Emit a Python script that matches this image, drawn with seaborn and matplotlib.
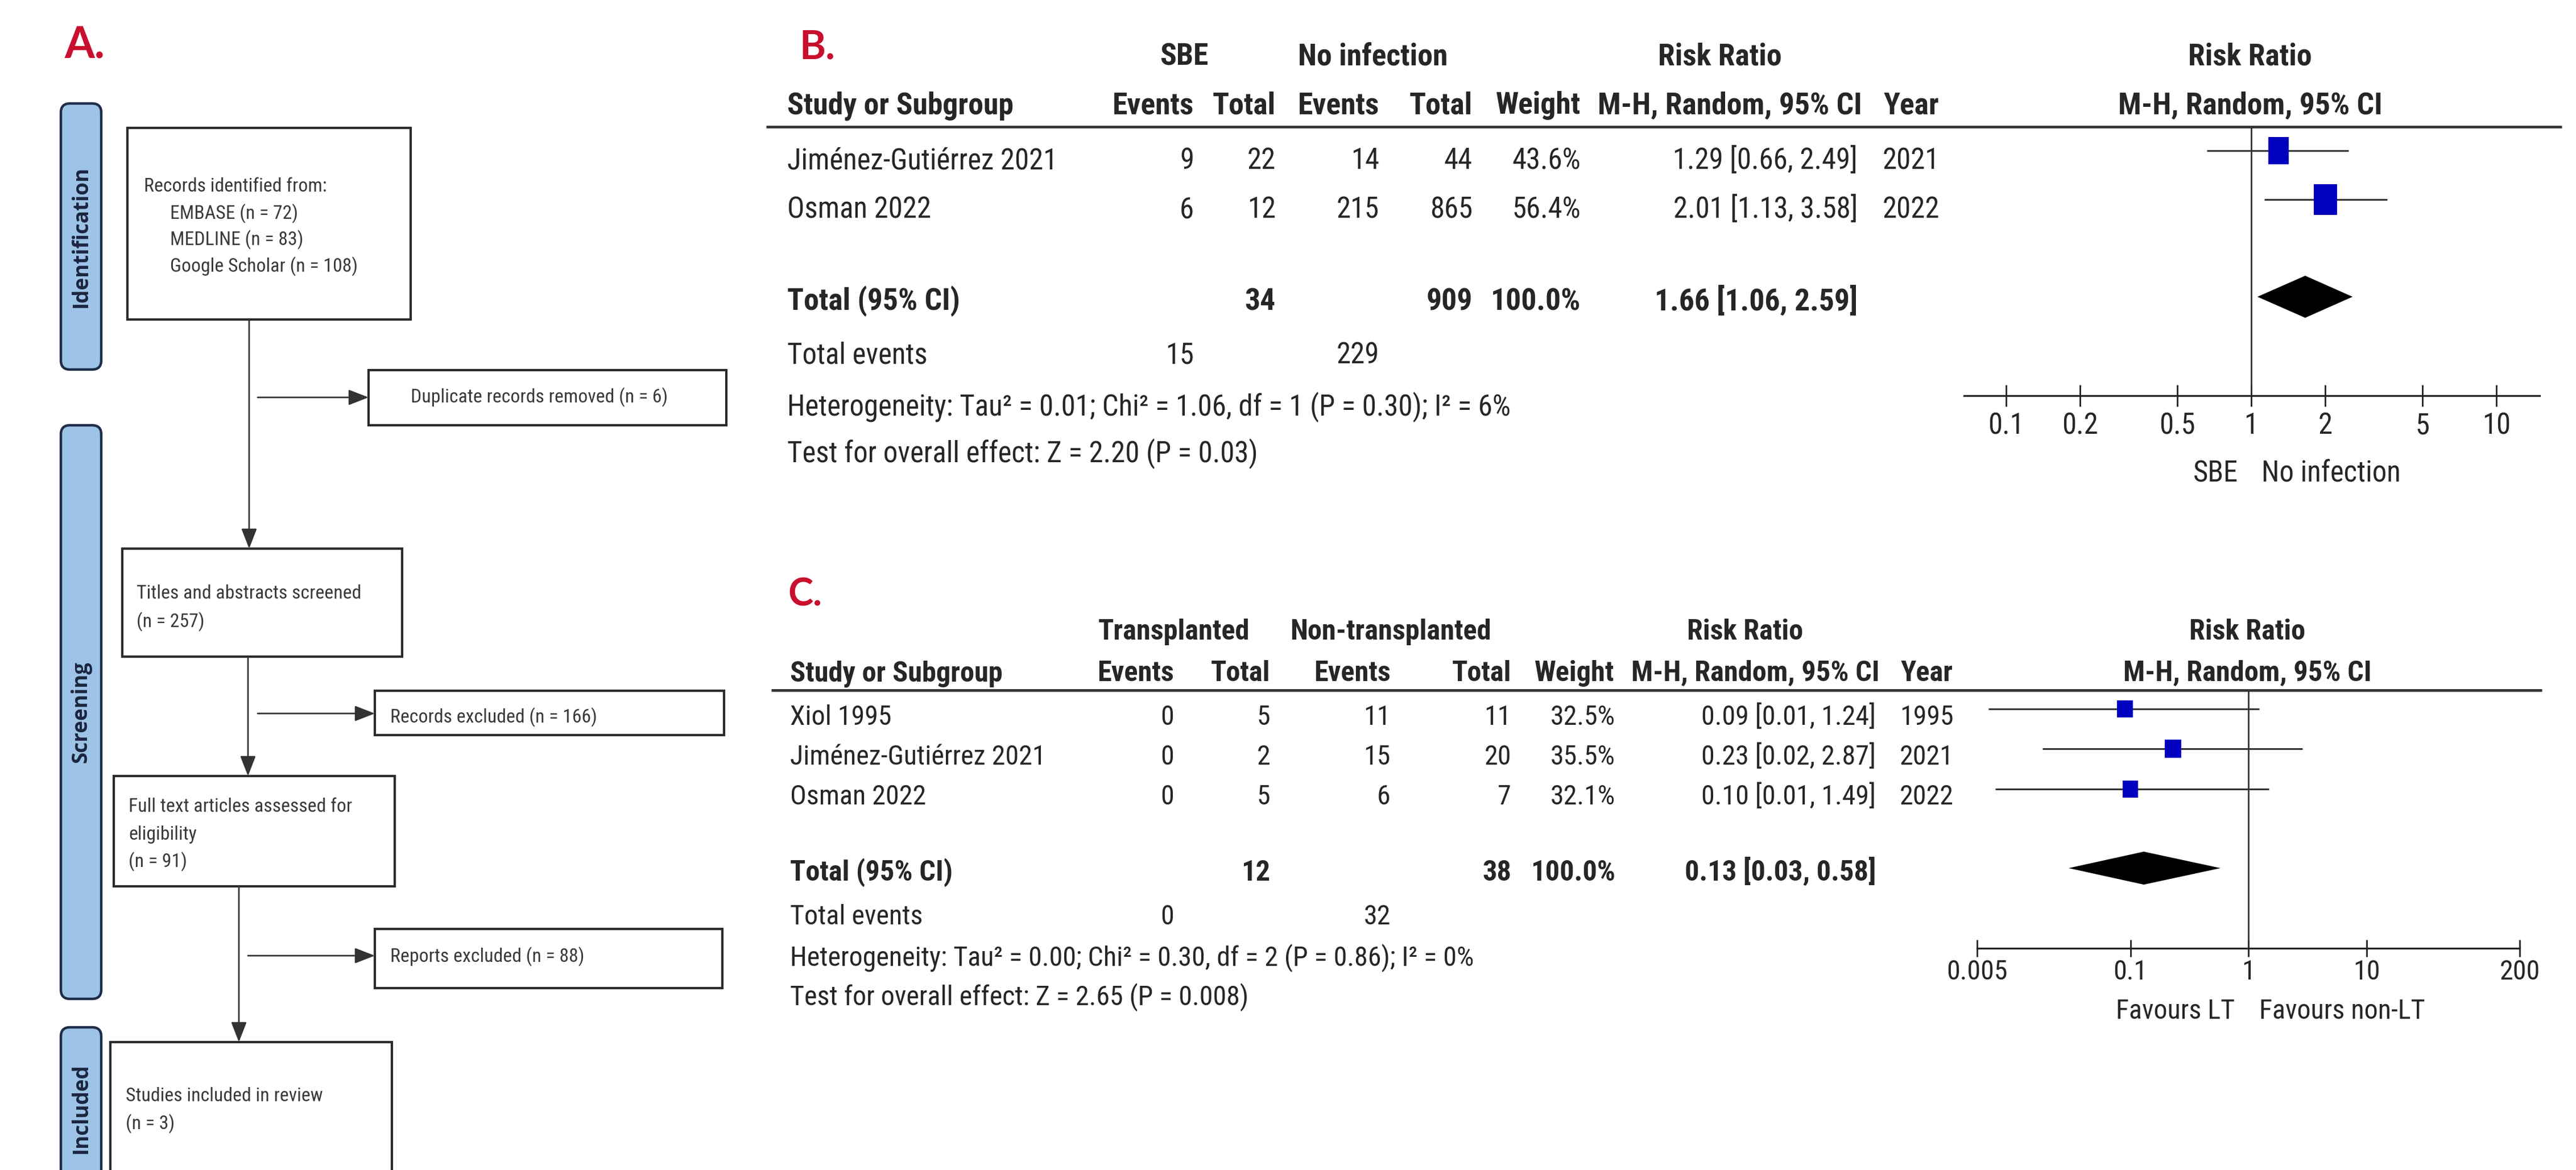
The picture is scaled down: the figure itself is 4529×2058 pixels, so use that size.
import numpy as np
import pandas as pd
import seaborn as sns
import matplotlib
matplotlib.use("Agg")
import matplotlib.pyplot as plt
from matplotlib.patches import Rectangle, FancyBboxPatch
from matplotlib.markers import MarkerStyle
from matplotlib.path import Path
from matplotlib.ticker import NullLocator
from matplotlib import font_manager as fm

# ---------------- data ----------------
# PRISMA flow counts
n_embase, n_medline, n_scholar = 72, 83, 108
n_duplicates = 6
n_screened = 257
n_records_excluded = 166
n_assessed = 91
n_reports_excluded = 88
n_included = 3

# Panel B: SBE vs no infection
b_studies = ["Jiménez-Gutiérrez 2021", "Osman 2022"]
b_sbe_events = [9, 6]
b_sbe_total = [22, 12]
b_noinf_events = [14, 215]
b_noinf_total = [44, 865]
b_weight = [43.6, 56.4]
b_rr = [1.29, 2.01]
b_ci_low = [0.66, 1.13]
b_ci_high = [2.49, 3.58]
b_year = [2021, 2022]
b_pooled = [1.66, 1.06, 2.59]
b_heterogeneity = "Heterogeneity: Tau² = 0.01; Chi² = 1.06, df = 1 (P = 0.30); I² = 6%"
b_overall = "Test for overall effect: Z = 2.20 (P = 0.03)"
b_ticks = [0.1, 0.2, 0.5, 1, 2, 5, 10]
b_tick_labels = ["0.1", "0.2", "0.5", "1", "2", "5", "10"]

# Panel C: transplanted vs non-transplanted
c_studies = ["Xiol 1995", "Jiménez-Gutiérrez 2021", "Osman 2022"]
c_lt_events = [0, 0, 0]
c_lt_total = [5, 2, 5]
c_nonlt_events = [11, 15, 6]
c_nonlt_total = [11, 20, 7]
c_weight = [32.5, 35.5, 32.1]
c_rr = [0.09, 0.23, 0.10]
c_ci_low = [0.0063, 0.018, 0.0072]
c_ci_high = [1.24, 2.87, 1.49]
c_year = [1995, 2021, 2022]
c_pooled = [0.13, 0.03, 0.58]
c_heterogeneity = "Heterogeneity: Tau² = 0.00; Chi² = 0.30, df = 2 (P = 0.86); I² = 0%"
c_overall = "Test for overall effect: Z = 2.65 (P = 0.008)"
c_ticks = [0.005, 0.1, 1, 10, 200]
c_tick_labels = ["0.005", "0.1", "1", "10", "200"]

total_weight_label = "100.0%"

# ---------------- style ----------------
sns.set_theme(style="white")
_names = {f.name for f in fm.fontManager.ttflist}
FAM = next((n for n in ["Liberation Sans Narrow", "Roboto Condensed", "Liberation Sans"] if n in _names), "DejaVu Sans")
LETTER_FAM = "Lato" if "Lato" in _names else "DejaVu Sans"
BAR_FAM = "Open Sans" if "Open Sans" in _names else "DejaVu Sans"
plt.rcParams["font.family"] = [FAM, "DejaVu Sans"]
plt.rcParams["xtick.bottom"] = True

W, H, DPI = 4529, 2058, 100
PX = DPI / 72.0
TXT = "#262626"
RED = "#C8102E"
BLUE = "#0000BE"

fig = plt.figure(figsize=(W / DPI, H / DPI), dpi=DPI)
fig.patch.set_facecolor("white")
renderer = fig.canvas.get_renderer()

ax_bg = fig.add_axes([0, 0, 1, 1])
ax_bg.set_xlim(0, W)
ax_bg.set_ylim(H, 0)
ax_bg.axis("off")


def fit(s, width_px, weight="normal", family=FAM):
    t = fig.text(0, 0, s, fontsize=100, fontweight=weight, family=family)
    w = t.get_window_extent(renderer=renderer).width
    t.remove()
    return 100.0 * width_px / w


def put(x, y, s, size, ha="left", weight="normal", color=TXT, family=FAM, rot=0):
    if rot:
        ax_bg.text(x, y, s, ha="center", va="center", rotation=rot, fontsize=size,
                   fontweight=weight, color=color, family=family)
    else:
        ax_bg.text(x, y + 0.36 * size * PX, s, ha=ha, va="baseline", fontsize=size,
                   fontweight=weight, color=color, family=family)


# ---------------- panel A: PRISMA flow ----------------
put(113, 74, "A.", fit("A.", 71, "bold", LETTER_FAM), weight="bold", color=RED, family=LETTER_FAM)

fs_flow = fit("Duplicate records removed (n = 6)", 452)
fs_bar = fit("Identification", 249, "bold", BAR_FAM)

for (x0, y0, x1, y1), label in [((107, 182, 178, 650), "Identification"),
                                ((107, 748, 178, 1757), "Screening"),
                                ((107, 1807, 178, 2092), "Included")]:
    ax_bg.add_patch(FancyBboxPatch((x0, y0), x1 - x0, y1 - y0,
                                   boxstyle="round,pad=0,rounding_size=16",
                                   fc="#9DC3E6", ec="#1F2D4A", lw=3.2, zorder=2))
    put((x0 + x1) / 2, (y0 + y1) / 2, label, fs_bar, weight="bold",
        color="#1B2540", family=BAR_FAM, rot=90)

flow_boxes = [(224, 225, 722, 562), (648, 651, 1277, 748), (215, 965, 707, 1155),
              (659, 1215, 1273, 1293), (200, 1365, 694, 1559), (659, 1634, 1270, 1738),
              (194, 1833, 689, 2110)]
for x0, y0, x1, y1 in flow_boxes:
    ax_bg.add_patch(Rectangle((x0, y0), x1 - x0, y1 - y0, fc="white", ec="#2B2B2B",
                              lw=3.0, zorder=2))

FLOW_TXT = "#3A3A3A"
put(253, 325, "Records identified from:", fs_flow, color=FLOW_TXT)
put(299, 373, f"EMBASE (n = {n_embase})", fs_flow, color=FLOW_TXT)
put(299, 419, f"MEDLINE (n = {n_medline})", fs_flow, color=FLOW_TXT)
put(299, 466, f"Google Scholar (n = {n_scholar})", fs_flow, color=FLOW_TXT)
put(722, 696, f"Duplicate records removed (n = {n_duplicates})", fs_flow, color=FLOW_TXT)
put(240, 1041, "Titles and abstracts screened", fs_flow, color=FLOW_TXT)
put(240, 1091, f"(n = {n_screened})", fs_flow, color=FLOW_TXT)
put(686, 1259, f"Records excluded (n = {n_records_excluded})", fs_flow, color=FLOW_TXT)
put(226, 1416, "Full text articles assessed for", fs_flow, color=FLOW_TXT)
put(226, 1465, "eligibility", fs_flow, color=FLOW_TXT)
put(226, 1513, f"(n = {n_assessed})", fs_flow, color=FLOW_TXT)
put(686, 1680, f"Reports excluded (n = {n_reports_excluded})", fs_flow, color=FLOW_TXT)
put(221, 1925, "Studies included in review", fs_flow, color=FLOW_TXT)
put(221, 1974, f"(n = {n_included})", fs_flow, color=FLOW_TXT)

arrow_kw = dict(arrowstyle="-|>,head_length=0.9,head_width=0.35", color="#333333",
                lw=2.0, mutation_scale=24, shrinkA=0, shrinkB=0)
for (xa, ya), (xb, yb) in [((438, 562), (438, 965)), ((453, 699), (648, 699)),
                           ((436, 1155), (436, 1365)), ((453, 1255), (659, 1255)),
                           ((420, 1559), (420, 1833)), ((436, 1681), (659, 1681))]:
    ax_bg.annotate("", xy=(xb, yb), xytext=(xa, ya), arrowprops=arrow_kw, zorder=3)


# ---------------- forest-plot helpers ----------------
def forest_axes(x0, x1, center, decade, axis_y):
    ax = fig.add_axes([x0 / W, 0, (x1 - x0) / W, 1])
    ax.set_xscale("log")
    ax.set_xlim(10 ** ((x0 - center) / decade), 10 ** ((x1 - center) / decade))
    ax.set_ylim(H, 0)
    ax.patch.set_alpha(0)
    for s in ["left", "right", "top"]:
        ax.spines[s].set_visible(False)
    ax.spines["bottom"].set_position(("data", axis_y))
    ax.spines["bottom"].set_linewidth(2.3)
    ax.spines["bottom"].set_color("#222222")
    ax.set_yticks([])
    ax.xaxis.set_minor_locator(NullLocator())
    return ax


def rect_marker(aspect):
    hw = aspect / 2.0
    verts = [(-hw, -0.5), (hw, -0.5), (hw, 0.5), (-hw, 0.5), (-hw, -0.5)]
    return MarkerStyle(Path(verts, closed=True))


def draw_forest(ax, rr, lo, hi, weight, rows_y, pooled, pooled_y, dia_h, k_size,
                aspect, top_y, axis_y):
    ax.vlines(1, top_y, axis_y, color="#333333", lw=2.0, zorder=1)
    ax.hlines(rows_y, lo, hi, color="#333333", lw=2.2, zorder=2)
    df = pd.DataFrame({"rr": rr, "y": rows_y, "w": weight})
    sns.scatterplot(data=df, x="rr", y="y", size="w", sizes=(0, k_size * 100),
                    size_norm=(0, 100), marker=rect_marker(aspect), color=BLUE,
                    edgecolor="none", linewidth=0, legend=False, ax=ax, zorder=3)
    est, plo, phi = pooled
    ax.fill([plo, est, phi, est], [pooled_y, pooled_y - dia_h / 2, pooled_y, pooled_y + dia_h / 2],
            color="black", lw=0, zorder=3)
    ax.set_xlabel("")
    ax.set_ylabel("")
    ax.set_yticks([])


def finish_axis(ax, ticks, labels, length, size, pad):
    ax.set_xticks(ticks)
    ax.set_xticklabels(labels)
    ax.xaxis.set_minor_locator(NullLocator())
    ax.tick_params(axis="x", which="major", bottom=True, top=False, direction="inout",
                   length=length, width=2.0, color="#222222", pad=pad,
                   labelsize=size, labelcolor=TXT)


def ci_text(r, l, h):
    return f"{r:.2f} [{l:.2f}, {h:.2f}]"


# ---------------- panel B ----------------
fsB = fit(b_overall, 828)
fsBb = fit("Study or Subgroup", 398, "bold")
put(1405, 78, "B.", fit("B.", 63, "bold", LETTER_FAM), weight="bold", color=RED, family=LETTER_FAM)

put(2082, 95, "SBE", fsBb, ha="center", weight="bold")
put(2414, 95, "No infection", fsBb, ha="center", weight="bold")
put(3024, 95, "Risk Ratio", fsBb, ha="center", weight="bold")
put(3956, 95, "Risk Ratio", fsBb, ha="center", weight="bold")
for x, s, ha in [(1384, "Study or Subgroup", "left"), (2099, "Events", "right"),
                 (2243, "Total", "right"), (2425, "Events", "right"), (2589, "Total", "right"),
                 (2779, "Weight", "right"), (3041, "M-H, Random, 95% CI", "center"),
                 (3312, "Year", "left"), (3956, "M-H, Random, 95% CI", "center")]:
    put(x, 181, s, fsBb, ha=ha, weight="bold")
ax_bg.plot([1347, 4504], [223, 223], color="#333333", lw=3.4, solid_capstyle="butt")

b_rows = [279, 365]
for i, y in enumerate(b_rows):
    put(1384, y, b_studies[i], fsB)
    put(2099, y, str(b_sbe_events[i]), fsB, ha="right")
    put(2243, y, str(b_sbe_total[i]), fsB, ha="right")
    put(2425, y, str(b_noinf_events[i]), fsB, ha="right")
    put(2589, y, str(b_noinf_total[i]), fsB, ha="right")
    put(2779, y, f"{b_weight[i]:.1f}%", fsB, ha="right")
    put(3266, y, ci_text(b_rr[i], b_ci_low[i], b_ci_high[i]), fsB, ha="right")
    put(3310, y, str(b_year[i]), fsB)
put(1384, 526, "Total (95% CI)", fsBb, weight="bold")
put(2243, 526, str(sum(b_sbe_total)), fsBb, ha="right", weight="bold")
put(2589, 526, str(sum(b_noinf_total)), fsBb, ha="right", weight="bold")
put(2779, 526, total_weight_label, fsBb, ha="right", weight="bold")
put(3266, 526, ci_text(*b_pooled), fsBb, ha="right", weight="bold")
put(1384, 621, "Total events", fsB)
put(2099, 621, str(sum(b_sbe_events)), fsB, ha="right")
put(2425, 621, str(sum(b_noinf_events)), fsB, ha="right")
put(1384, 713, b_heterogeneity, fsB)
put(1384, 795, b_overall, fsB)

B_AXIS = 696
axB = forest_axes(3453, 4465, 3958, 431, B_AXIS)
draw_forest(axB, b_rr, b_ci_low, b_ci_high, b_weight, [265, 351], b_pooled, 522, 74,
            27.4, 0.75, 223, B_AXIS)
finish_axis(axB, b_ticks, b_tick_labels, 27, fsB, 7)
put(3935, 829, "SBE", fsB, ha="right")
put(3976, 829, "No infection", fsB)

# ---------------- panel C ----------------
fsC = fit(c_overall, 805)
fsCb = fit("Study or Subgroup", 374, "bold")
put(1385, 1041, "C.", fit("C.", 60, "bold", LETTER_FAM), weight="bold", color=RED, family=LETTER_FAM)

put(2064, 1107, "Transplanted", fsCb, ha="center", weight="bold")
put(2445, 1107, "Non-transplanted", fsCb, ha="center", weight="bold")
put(3068, 1107, "Risk Ratio", fsCb, ha="center", weight="bold")
put(3951, 1107, "Risk Ratio", fsCb, ha="center", weight="bold")
for x, s, ha in [(1389, "Study or Subgroup", "left"), (2064, "Events", "right"),
                 (2233, "Total", "right"), (2445, "Events", "right"), (2657, "Total", "right"),
                 (2838, "Weight", "right"), (3086, "M-H, Random, 95% CI", "center"),
                 (3342, "Year", "left"), (3951, "M-H, Random, 95% CI", "center")]:
    put(x, 1180, s, fsCb, ha=ha, weight="bold")
ax_bg.plot([1356, 4469], [1214, 1214], color="#333333", lw=3.4, solid_capstyle="butt")

c_rows = [1258, 1328, 1398]
for i, y in enumerate(c_rows):
    put(1389, y, c_studies[i], fsC)
    put(2064, y, str(c_lt_events[i]), fsC, ha="right")
    put(2233, y, str(c_lt_total[i]), fsC, ha="right")
    put(2445, y, str(c_nonlt_events[i]), fsC, ha="right")
    put(2657, y, str(c_nonlt_total[i]), fsC, ha="right")
    put(2840, y, f"{c_weight[i]:.1f}%", fsC, ha="right")
    put(3298, y, ci_text(c_rr[i], c_ci_low[i], c_ci_high[i]), fsC, ha="right")
    put(3340, y, str(c_year[i]), fsC)
put(1389, 1531, "Total (95% CI)", fsCb, weight="bold")
put(2233, 1531, str(sum(c_lt_total)), fsCb, ha="right", weight="bold")
put(2657, 1531, str(sum(c_nonlt_total)), fsCb, ha="right", weight="bold")
put(2840, 1531, total_weight_label, fsCb, ha="right", weight="bold")
put(3298, 1531, ci_text(*c_pooled), fsCb, ha="right", weight="bold")
put(1389, 1609, "Total events", fsC)
put(2064, 1609, str(sum(c_lt_events)), fsC, ha="right")
put(2445, 1609, str(sum(c_nonlt_events)), fsC, ha="right")
put(1389, 1682, c_heterogeneity, fsC)
put(1389, 1751, c_overall, fsC)

C_AXIS = 1668
c_dec = 207.5
c_x0 = 3953 - np.log10(200) * c_dec
c_x1 = 3953 + np.log10(200) * c_dec
axC = forest_axes(c_x0, c_x1, 3953, c_dec, C_AXIS)
draw_forest(axC, c_rr, c_ci_low, c_ci_high, c_weight, [1247, 1317, 1388], c_pooled, 1527, 58,
            14.3, 0.92, 1214, C_AXIS)
finish_axis(axC, c_ticks, c_tick_labels, 22, fsC, 3)
put(3929, 1775, "Favours LT", fsC, ha="right")
put(3972, 1775, "Favours non-LT", fsC)

fig.savefig("out.png", dpi=DPI, facecolor="white")
